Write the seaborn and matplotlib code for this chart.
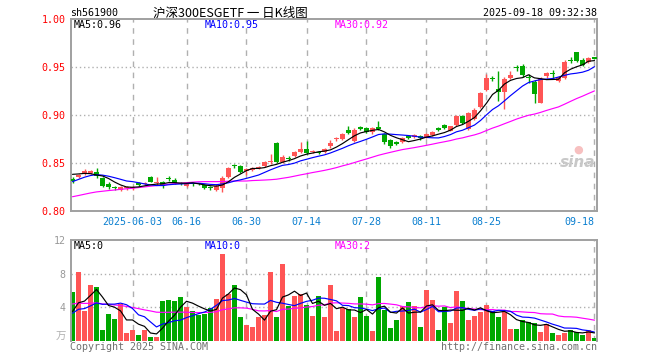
import numpy as np
import pandas as pd
import matplotlib
matplotlib.use("Agg")
import matplotlib.pyplot as plt
import matplotlib.transforms as mtransforms
import seaborn as sns

# ---------------- data ----------------
dates = [d for d in pd.bdate_range("2025-05-19", "2025-09-18") if d.strftime("%Y-%m-%d") != "2025-06-02"]

open_ = [0.833, 0.835, 0.839, 0.840, 0.841, 0.834, 0.828, 0.8238, 0.8222, 0.8236,
         0.824, 0.829, 0.8278, 0.8351, 0.829, 0.8299, 0.8333, 0.8326, 0.8282, 0.8257,
         0.8282, 0.8282, 0.827, 0.8253, 0.8222, 0.824, 0.835, 0.8467, 0.847, 0.842,
         0.843, 0.8451, 0.8472, 0.8507, 0.871, 0.851, 0.854, 0.8576, 0.861, 0.8646,
         0.8618, 0.8618, 0.861, 0.8674, 0.875, 0.875, 0.8844, 0.873, 0.886, 0.8865,
         0.8819, 0.886, 0.880, 0.8736, 0.872, 0.8722, 0.8778, 0.8776, 0.8778, 0.877,
         0.8795, 0.885, 0.8896, 0.8837, 0.8896, 0.899, 0.8854, 0.8958, 0.908, 0.926,
         0.9375, 0.927, 0.9236, 0.9385, 0.949, 0.9507, 0.939, 0.9347, 0.913, 0.9403,
         0.9427, 0.9358, 0.939, 0.9566, 0.9653, 0.9576, 0.9556, 0.959]
close = [0.831, 0.838, 0.842, 0.8405, 0.836, 0.826, 0.825, 0.8236, 0.8253, 0.8253,
         0.8242, 0.8271, 0.829, 0.8306, 0.8293, 0.8257, 0.8331, 0.8292, 0.828, 0.8285,
         0.828, 0.828, 0.8236, 0.8236, 0.8264, 0.834, 0.845, 0.8465, 0.841, 0.844,
         0.845, 0.8453, 0.8507, 0.8509, 0.851, 0.856, 0.8538, 0.861, 0.8646, 0.8604,
         0.862, 0.8604, 0.8646, 0.871, 0.8752, 0.880, 0.881, 0.8847, 0.8858, 0.8826,
         0.886, 0.8858, 0.8715, 0.8681, 0.870, 0.8757, 0.8757, 0.8778, 0.8757, 0.880,
         0.882, 0.8848, 0.8861, 0.8882, 0.899, 0.892, 0.902, 0.9056, 0.923, 0.939,
         0.9373, 0.924, 0.938, 0.942, 0.9488, 0.9417, 0.9388, 0.922, 0.938, 0.9437,
         0.9425, 0.940, 0.9556, 0.9565, 0.9566, 0.9524, 0.959, 0.9588]
high = [0.835, 0.839, 0.844, 0.843, 0.845, 0.835, 0.830, 0.826, 0.826, 0.826,
        0.826, 0.830, 0.830, 0.836, 0.835, 0.831, 0.836, 0.834, 0.830, 0.829,
        0.830, 0.829, 0.828, 0.826, 0.828, 0.836, 0.846, 0.849, 0.848, 0.845,
        0.846, 0.847, 0.852, 0.859, 0.872, 0.858, 0.857, 0.862, 0.8715, 0.873,
        0.864, 0.863, 0.866, 0.874, 0.877, 0.881, 0.889, 0.886, 0.889, 0.888,
        0.887, 0.894, 0.881, 0.875, 0.873, 0.877, 0.879, 0.880, 0.879, 0.881,
        0.883, 0.888, 0.891, 0.889, 0.900, 0.900, 0.903, 0.907, 0.924, 0.943,
        0.941, 0.946, 0.940, 0.946, 0.952, 0.953, 0.943, 0.936, 0.940, 0.945,
        0.947, 0.941, 0.957, 0.960, 0.966, 0.959, 0.960, 0.960]
low = [0.829, 0.834, 0.838, 0.839, 0.834, 0.825, 0.823, 0.822, 0.821, 0.822,
       0.822, 0.826, 0.827, 0.830, 0.827, 0.824, 0.831, 0.828, 0.827, 0.825,
       0.826, 0.827, 0.823, 0.822, 0.821, 0.820, 0.834, 0.845, 0.840, 0.838,
       0.842, 0.844, 0.846, 0.849, 0.850, 0.850, 0.852, 0.856, 0.860, 0.859,
       0.860, 0.859, 0.860, 0.866, 0.873, 0.874, 0.880, 0.872, 0.884, 0.881,
       0.880, 0.884, 0.870, 0.866, 0.869, 0.871, 0.875, 0.876, 0.874, 0.876,
       0.878, 0.883, 0.885, 0.883, 0.889, 0.891, 0.884, 0.895, 0.907, 0.925,
       0.935, 0.915, 0.906, 0.937, 0.946, 0.940, 0.933, 0.913, 0.912, 0.939,
       0.938, 0.934, 0.937, 0.954, 0.955, 0.951, 0.954, 0.9585]
volume = [5.8, 8.2, 3.6, 6.6, 6.4, 1.3, 3.2, 2.6, 4.4, 1.0,
          1.3, 0.7, 1.3, 0.45, 0.45, 4.7, 4.9, 4.8, 5.2, 4.0,
          3.6, 3.1, 3.2, 3.9, 5.0, 10.3, 5.6, 6.7, 2.9, 1.9,
          1.7, 2.8, 3.1, 8.2, 2.8, 9.2, 4.1, 5.3, 5.6, 4.3,
          3.0, 5.4, 2.9, 6.7, 1.2, 3.9, 3.8, 2.8, 5.2, 3.0,
          1.2, 7.6, 3.7, 1.6, 2.5, 4.2, 4.6, 4.2, 1.7, 6.1,
          4.9, 1.3, 4.0, 2.1, 6.0, 4.8, 2.5, 3.0, 3.4, 4.3,
          3.6, 2.8, 3.5, 1.4, 1.4, 2.5, 2.2, 2.1, 1.1, 2.0,
          1.0, 0.7, 1.0, 1.3, 1.1, 0.7, 1.3, 0.4]
# closes / volumes of the 29 sessions before the window (for moving averages)
pre_close = [0.800, 0.802, 0.801, 0.803, 0.805, 0.804, 0.806, 0.805, 0.807, 0.808,
             0.806, 0.808, 0.809, 0.810, 0.808, 0.810, 0.811, 0.812, 0.812, 0.813,
             0.815, 0.819, 0.823, 0.827, 0.831, 0.836, 0.839, 0.842, 0.843]
pre_volume = [5.2, 4.6, 6.1, 4.8, 5.5, 4.3, 5.0, 6.2, 4.4, 5.1,
              4.7, 5.8, 4.2, 4.9, 5.3, 4.6, 4.5, 5.0, 4.3, 4.5,
              3.5, 2.8, 3.4, 2.9, 2.9, 3.0, 2.6, 3.2, 2.9]
tick_dates = ["2025-06-03", "2025-06-16", "2025-06-30", "2025-07-14",
              "2025-07-28", "2025-08-11", "2025-08-25", "2025-09-18"]
tick_labels = ["2025-06-03", "06-16", "06-30", "07-14", "07-28", "08-11", "08-25", "09-18"]
price_ticks = [0.80, 0.85, 0.90, 0.95, 1.00]
price_tick_labels = ["0.80", "0.85", "0.90", "0.95", "1.00"]
vol_ticks = [4, 8, 12]
vol_tick_labels = ["4", "8", "12"]

# ---------------- derived ----------------
n = len(close)
idx = np.arange(n)
all_close = pd.Series(pre_close + close)
all_vol = pd.Series(pre_volume + volume)
df = pd.DataFrame({
    "i": idx,
    "ma5": all_close.rolling(5).mean().values[-n:],
    "ma10": all_close.rolling(10).mean().values[-n:],
    "ma30": all_close.rolling(30).mean().values[-n:],
    "vma5": all_vol.rolling(5).mean().values[-n:],
    "vma10": all_vol.rolling(10).mean().values[-n:],
    "vma30": all_vol.rolling(30).mean().values[-n:],
})
date_str = [d.strftime("%Y-%m-%d") for d in dates]
tick_idx = [date_str.index(t) for t in tick_dates]

RED = "#ff5555"
GREEN = "#00a800"
up = np.array(close) >= np.array(open_)
colors = [RED if u else GREEN for u in up]

# ---------------- style ----------------
sns.set_style("white")
plt.rcParams["font.family"] = ["DejaVu Sans Mono", "Noto Sans CJK SC"]
FS = 7.2
FRAME = "#a0a0a0"
GRID = "#b0b0b0"
LW = 0.85

fig = plt.figure(figsize=(6.6, 3.6), dpi=100)
W, H = 660.0, 360.0
ax = fig.add_axes([71 / W, 1 - 211 / H, 526 / W, 192 / H])
axv = fig.add_axes([71 / W, 1 - 341 / H, 526 / W, 101 / H])
xlim = (-0.25, -0.25 + 526 / 6.0)

# ---------------- price panel ----------------
ax.set_xlim(*xlim)
ax.set_ylim(0.80, 1.00)
for t in [0.85, 0.90, 0.95]:
    ax.axhline(t, color=GRID, lw=1, ls=(0, (1, 2)), zorder=0)
for t in tick_idx:
    ax.axvline(t, color=GRID, lw=1, ls=(0, (4, 4)), zorder=0)

ax.vlines(idx, low, high, colors=colors, lw=1, zorder=2)
body_b = np.minimum(open_, close)
body_h = np.maximum(np.abs(np.array(close) - np.array(open_)), 0.0012)
ax.bar(idx, body_h, bottom=body_b, width=0.7, color=colors, linewidth=0, zorder=3)

sns.lineplot(data=df, x="i", y="ma30", color="#ff00ff", lw=LW, ax=ax, zorder=4)
sns.lineplot(data=df, x="i", y="ma10", color="#0000ff", lw=LW, ax=ax, zorder=4)
sns.lineplot(data=df, x="i", y="ma5", color="black", lw=LW, ax=ax, zorder=5)

ax.set_xlabel("")
ax.set_ylabel("")
ax.set_xticks([])
ax.set_yticks(price_ticks)
ax.set_yticklabels(price_tick_labels, color="#ff0000", fontsize=FS)
ax.tick_params(axis="y", length=0, pad=4)
for s in ax.spines.values():
    s.set_color(FRAME)
    s.set_linewidth(1.4)

trans = mtransforms.blended_transform_factory(ax.transData, fig.transFigure)
for k, (t, lab) in enumerate(zip(tick_idx, tick_labels)):
    ha = "right" if k == len(tick_idx) - 1 else "center"
    ax.text(t, 1 - 222 / H, lab, transform=trans, ha=ha, va="center",
            color="#0a7fd0", fontsize=FS)

fig.text(74 / W, 1 - 25.5 / H, "MA5:0.96", color="black", fontsize=FS, va="center")
fig.text(205 / W, 1 - 25.5 / H, "MA10:0.95", color="#0000ff", fontsize=FS, va="center")
fig.text(335 / W, 1 - 25.5 / H, "MA30:0.92", color="#ff00ff", fontsize=FS, va="center")

# sina watermark
fig.text(578 / W, 1 - 163 / H, "sina", color="#c8c8c8", fontsize=11, style="italic",
         weight="bold", ha="center", va="center", family="DejaVu Sans")
fig.text(578 / W, 1 - 150 / H, "\u25cf", color="#f7c0c0", fontsize=8,
         ha="center", va="center", family="DejaVu Sans")

# ---------------- volume panel ----------------
axv.set_xlim(*xlim)
axv.set_ylim(0, 12)
for t in [4, 8]:
    axv.axhline(t, color=GRID, lw=1, ls=(0, (1, 2)), zorder=0)
for t in tick_idx:
    axv.axvline(t, color=GRID, lw=1, ls=(0, (4, 4)), zorder=0)
axv.bar(idx, volume, width=0.8, color=colors, linewidth=0, zorder=2)
sns.lineplot(data=df, x="i", y="vma30", color="#ff00ff", lw=LW, ax=axv, zorder=4)
sns.lineplot(data=df, x="i", y="vma10", color="#0000ff", lw=LW, ax=axv, zorder=4)
sns.lineplot(data=df, x="i", y="vma5", color="black", lw=LW, ax=axv, zorder=5)
axv.set_xlabel("")
axv.set_ylabel("")
axv.set_xticks([])
axv.set_yticks(vol_ticks)
axv.set_yticklabels(vol_tick_labels, color="#999999", fontsize=FS)
axv.tick_params(axis="y", length=0, pad=4)
for name, s in axv.spines.items():
    s.set_color(FRAME)
    s.set_linewidth(1.4)
axv.spines["bottom"].set_visible(False)

fig.text(66 / W, 1 - 337 / H, "万", color="#b0b0b0", fontsize=7.5, ha="right", va="center",
         family=["Noto Sans CJK SC", "DejaVu Sans"])
fig.text(74 / W, 1 - 246 / H, "MA5:0", color="black", fontsize=FS, va="center")
fig.text(205 / W, 1 - 246 / H, "MA10:0", color="#0000ff", fontsize=FS, va="center")
fig.text(335 / W, 1 - 246 / H, "MA30:2", color="#ff00ff", fontsize=FS, va="center")

# ---------------- header / footer ----------------
fig.text(70 / W, 1 - 13.5 / H, "sh561900", color="black", fontsize=FS, va="center")
fig.text(230 / W, 1 - 13 / H, "沪深300ESGETF 一 日K线图", color="black", fontsize=9,
         ha="center", va="center", family=["Noto Sans CJK SC", "DejaVu Sans"])
fig.text(597 / W, 1 - 13.5 / H, "2025-09-18 09:32:38", color="black", fontsize=FS,
         ha="right", va="center")
fig.text(70 / W, 1 - 346.5 / H, "Copyright 2025 SINA.COM", color="#707070", fontsize=FS,
         va="center")
fig.text(597 / W, 1 - 346.5 / H, "http://finance.sina.com.cn", color="#707070", fontsize=FS,
         ha="right", va="center")

fig.savefig("out.png", dpi=100, facecolor="white")
